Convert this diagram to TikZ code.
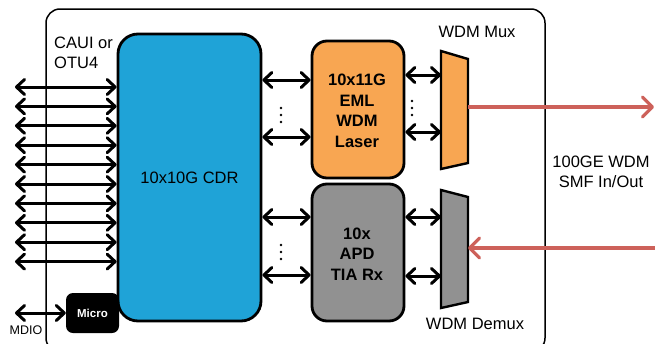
\documentclass[tikz,border=0pt]{standalone}
\usepackage{fontspec}
\setmainfont{Liberation Sans}
\usetikzlibrary{arrows.meta}
\definecolor{cdrblue}{RGB}{31,163,215}
\definecolor{lasorange}{RGB}{248,166,82}
\definecolor{rxgray}{RGB}{145,145,145}
\definecolor{fibred}{RGB}{205,97,90}
\tikzset{
  blk/.style={draw=black, line width=2.8pt, align=center, inner sep=0pt},
  btip/.tip={Straight Barb[length=8pt,width=15pt,line width=3pt,round]},
  biarrow/.style={line width=3pt, btip-btip},
  fibre/.style={draw=fibred, line width=3.2pt, -{Straight Barb[length=10pt,width=20pt,line width=3.2pt,round]}},
  lbl/.style={font=\fontsize{16.5}{20}\selectfont, align=center, inner sep=0pt},
  blbl/.style={font=\fontsize{16.5}{20.5}\selectfont\bfseries, align=center, inner sep=0pt},
  dotc/.style={fill=black, circle, inner sep=0pt, minimum size=2.8pt}
}
\begin{document}
\begin{tikzpicture}[x=1pt,y=-1pt]
\useasboundingbox (0,0) rectangle (655,343);
\clip (0,0) rectangle (655,343);
% outer module
\draw[line width=1.5pt, rounded corners=14pt] (46,9) rectangle (545,352);
% CDR
\node[blk, fill=cdrblue, rounded corners=20pt, minimum width=143pt, minimum height=287pt] (cdr) at (189.5,177.5) {};
\node[lbl] (cdrt) at (cdr.center) {10x10G CDR};
% laser and receiver
\node[blk, fill=lasorange, rounded corners=15pt, minimum width=92pt, minimum height=137pt] (las) at (358,109.5) {};
\node[blbl] (last) at (357,111) {10x11G\\EML\\WDM\\Laser};
\node[blk, fill=rxgray, rounded corners=15pt, minimum width=92pt, minimum height=137pt] (rx) at (358,252.5) {};
\node[blbl] (rxt) at (357,254) {10x\\APD\\TIA Rx};
% micro
\node[fill=black, rounded corners=7pt, minimum width=53pt, minimum height=40pt, inner sep=0pt,
  text=white, font=\fontsize{11.5}{12}\selectfont\bfseries] (micro) at (92.5,313) {Micro};
% mux / demux
\draw[line width=2.4pt, fill=lasorange, line join=miter] (441,51) -- (468,59) -- (468,163) -- (441,169) -- cycle;
\draw[line width=2.4pt, fill=rxgray, line join=miter] (441,190) -- (468,197) -- (468,302) -- (441,308) -- cycle;
\coordinate (muxL1) at (441,75);
\coordinate (muxL2) at (441,132);
\coordinate (muxR) at (468,107);
\coordinate (dmxL1) at (441,217);
\coordinate (dmxL2) at (441,276);
\coordinate (dmxR) at (468,248);
% left host lanes
\foreach \i in {0,...,9} {
  \coordinate (l\i) at (15,{87+\i*19.4});
  \draw[biarrow] (l\i) -- (l\i -| cdr.west);
}
% MDIO
\coordinate (mdio) at (15,313);
\draw[biarrow] (mdio) -- (micro.west);
% CDR <-> laser / rx
\coordinate (a1) at (cdr.east |- 0,80);
\coordinate (a2) at (cdr.east |- 0,137);
\coordinate (a3) at (cdr.east |- 0,217);
\coordinate (a4) at (cdr.east |- 0,275);
\draw[biarrow] (a1) -- (a1 -| las.west);
\draw[biarrow] (a2) -- (a2 -| las.west);
\draw[biarrow] (a3) -- (a3 -| rx.west);
\draw[biarrow] (a4) -- (a4 -| rx.west);
% laser/rx <-> mux/demux
\draw[biarrow] (muxL1 -| las.east) -- (muxL1);
\draw[biarrow] (muxL2 -| las.east) -- (muxL2);
\draw[biarrow] (dmxL1 -| rx.east) -- (dmxL1);
\draw[biarrow] (dmxL2 -| rx.east) -- (dmxL2);
% dots
\foreach \x/\y [count=\k] in {281/108, 281/245, 412/101} {
  \node[dotc] (da\k) at (\x,\y) {};
  \node[dotc] (db\k) at (\x,\y+7) {};
  \node[dotc] (dc\k) at (\x,\y+14) {};
}
% fibre
\coordinate (fout) at (654,107);
\coordinate (fin) at (655,248);
\draw[fibre] (muxR) -- (fout);
\draw[fibre] (fin) -- (dmxR);
% labels
\node[lbl, align=left, anchor=north west] (caui) at (54,37) {CAUI or\\OTU4};
\node[font=\fontsize{12.5}{13}\selectfont, inner sep=0pt] (mdiot) at (26,330) {MDIO};
\node[lbl] (muxt) at (477,32) {WDM Mux};
\node[lbl] (dmxt) at (475,324) {WDM Demux};
\node[lbl] (fibt) at (601,172) {100GE WDM\\SMF In/Out};
\end{tikzpicture}
\end{document}
